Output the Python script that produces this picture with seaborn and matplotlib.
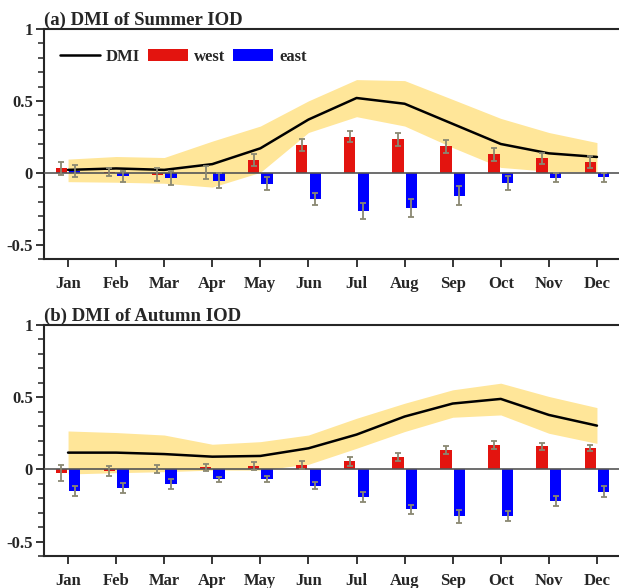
import matplotlib
matplotlib.use('Agg')
import matplotlib.pyplot as plt
import seaborn as sns
import numpy as np
import pandas as pd
from matplotlib.lines import Line2D
from matplotlib.patches import Patch
from matplotlib.ticker import MultipleLocator

months = ['Jan', 'Feb', 'Mar', 'Apr', 'May', 'Jun', 'Jul', 'Aug', 'Sep', 'Oct', 'Nov', 'Dec']

# (a) summer IOD
dmi_a = [0.02, 0.03, 0.02, 0.06, 0.17, 0.37, 0.52, 0.48, 0.34, 0.20, 0.135, 0.11]
up_a = [0.095, 0.113, 0.106, 0.22, 0.325, 0.50, 0.648, 0.641, 0.51, 0.378, 0.28, 0.21]
lo_a = [-0.062, -0.066, -0.073, -0.10, 0.003, 0.28, 0.39, 0.325, 0.175, 0.037, 0.01, 0.005]
west_a = [0.03, 0.005, -0.015, 0.0, 0.09, 0.194, 0.252, 0.233, 0.183, 0.129, 0.10, 0.076]
west_err_a = [0.046, 0.03, 0.045, 0.045, 0.04, 0.04, 0.035, 0.044, 0.048, 0.045, 0.04, 0.04]
east_a = [0.013, -0.025, -0.037, -0.055, -0.078, -0.182, -0.267, -0.246, -0.159, -0.071, -0.035, -0.033]
east_err_a = [0.04, 0.037, 0.05, 0.05, 0.045, 0.042, 0.058, 0.06, 0.065, 0.05, 0.03, 0.03]

# (b) autumn IOD
dmi_b = [0.116, 0.116, 0.106, 0.088, 0.093, 0.146, 0.241, 0.366, 0.456, 0.488, 0.377, 0.303]
up_b = [0.266, 0.255, 0.238, 0.174, 0.192, 0.238, 0.354, 0.458, 0.551, 0.597, 0.505, 0.428]
lo_b = [-0.032, -0.023, -0.016, -0.005, -0.005, 0.035, 0.146, 0.262, 0.361, 0.377, 0.25, 0.18]
west_b = [-0.028, -0.012, 0.003, 0.014, 0.023, 0.028, 0.056, 0.086, 0.134, 0.167, 0.16, 0.148]
west_err_b = [0.055, 0.037, 0.03, 0.025, 0.03, 0.027, 0.032, 0.025, 0.03, 0.029, 0.025, 0.024]
east_b = [-0.148, -0.132, -0.102, -0.067, -0.067, -0.113, -0.19, -0.275, -0.324, -0.32, -0.218, -0.155]
east_err_b = [0.035, 0.035, 0.036, 0.017, 0.023, 0.023, 0.035, 0.031, 0.046, 0.035, 0.037, 0.039]

sns.set_style('ticks')
plt.rcParams['font.family'] = ['Liberation Serif', 'DejaVu Serif']
plt.rcParams['font.weight'] = 'bold'

RED = '#E3140F'
BLUE = '#0000FF'
BAND = '#FFE699'
ERR = '#8A8872'

fig = plt.figure(figsize=(6.19, 5.88), dpi=100)
ax_a = fig.add_axes([44 / 619, (588 - 259) / 588, 577 / 619, 230 / 588])
ax_b = fig.add_axes([44 / 619, (588 - 556) / 588, 577 / 619, 231 / 588])


def draw(ax, title, dmi, up, lo, west, west_err, east, east_err, legend=False):
    pos = np.arange(len(months))
    df = pd.DataFrame({
        'month': months * 2,
        'value': west + east,
        'side': ['west'] * 12 + ['east'] * 12,
    })
    ax.fill_between(pos, lo, up, color=BAND, lw=0, zorder=1)
    sns.barplot(data=df, x='month', y='value', hue='side', order=months,
                hue_order=['west', 'east'], palette=[RED, BLUE], saturation=1,
                width=0.56, gap=0.16, errorbar=None, legend=False,
                linewidth=0, ax=ax, zorder=2)
    ax.axhline(0, color='#555555', lw=1.2, zorder=3)
    sns.lineplot(x=pos, y=dmi, color='black', lw=1.8, ax=ax, zorder=4)
    ax.errorbar(pos - 0.14, west, yerr=west_err, fmt='none', ecolor=ERR,
                elinewidth=1.3, capsize=2.3, capthick=1.3, zorder=5)
    ax.errorbar(pos + 0.14, east, yerr=east_err, fmt='none', ecolor=ERR,
                elinewidth=1.3, capsize=2.3, capthick=1.3, zorder=5)

    ax.set_xlim(-0.5, 11.5)
    ax.set_ylim(-0.6, 1.0)
    ax.set_xticks(pos)
    ax.set_xticklabels(months)
    ax.set_yticks([-0.5, 0, 0.5, 1])
    ax.set_yticklabels(['-0.5', '0', '0.5', '1'])
    ax.yaxis.set_minor_locator(MultipleLocator(0.1))
    ax.set_xlabel('')
    ax.set_ylabel('')
    ax.tick_params(axis='x', direction='out', length=6, width=1.3, pad=6, labelsize=12)
    ax.tick_params(axis='y', which='major', direction='out', length=6, width=1.3, pad=2, labelsize=12)
    ax.tick_params(axis='y', which='minor', direction='out', length=4, width=1.1)
    for s in ['left', 'bottom', 'top']:
        ax.spines[s].set_linewidth(1.5)
        ax.spines[s].set_visible(True)
    ax.spines['right'].set_visible(False)
    for lab in ax.get_xticklabels() + ax.get_yticklabels():
        lab.set_fontweight('bold')
    ax.set_title(title, loc='left', pad=3, fontsize=13.5, fontweight='bold')

    if legend:
        handles = [Line2D([0], [0], color='black', lw=1.8),
                   Patch(facecolor=RED, edgecolor='none'),
                   Patch(facecolor=BLUE, edgecolor='none')]
        ax.legend(handles, ['DMI', 'west', 'east'], loc='upper left',
                  bbox_to_anchor=(0.001, 0.98), ncol=3, frameon=False,
                  handlelength=2.4, handleheight=0.8, handletextpad=0.35,
                  columnspacing=0.5, prop={'weight': 'bold', 'size': 12})


draw(ax_a, '(a) DMI of Summer IOD', dmi_a, up_a, lo_a, west_a, west_err_a,
     east_a, east_err_a, legend=True)
draw(ax_b, '(b) DMI of Autumn IOD', dmi_b, up_b, lo_b, west_b, west_err_b,
     east_b, east_err_b)

fig.savefig('out.png', dpi=100)
